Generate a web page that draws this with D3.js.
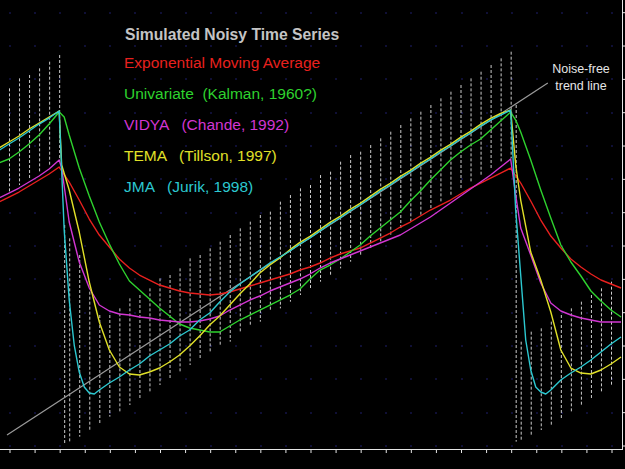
<!DOCTYPE html>
<html>
<head>
<meta charset="utf-8">
<script src="https://cdnjs.cloudflare.com/ajax/libs/d3/7.8.5/d3.min.js"></script>
<style>
  body { margin: 0; background: #000; }
  svg { display: block; }
</style>
</head>
<body>
<script>
'use strict';

// bar index of each noisy sample column, with its high / low reading
const noiseIdx = [0, 2, 4, 6, 8, 10, 11, 12, 14, 16, 18, 20, 22, 24, 26, 28, 30, 32, 34, 36, 38, 40,
  42, 44, 46, 48, 50, 52, 54, 56, 58, 60, 62, 64, 66, 68, 70, 72, 74, 76, 78, 80, 82, 84, 86, 88, 90,
  92, 94, 96, 98, 100, 101, 102, 104, 106, 108, 110, 112, 114, 116, 118, 120];
const noiseHi = [107, 110, 111, 113, 115, 117, 66, 62, 57, 46, 39, 39, 41, 44, 45, 47, 50, 51, 53, 56, 57, 59,
  61, 63, 65, 67, 69, 70, 73, 75, 77, 78, 81, 82, 85, 87, 88, 90, 92, 94, 96, 98, 100, 102, 104, 106, 108,
  110, 112, 114, 116, 118, 102, 31, 34, 35, 37, 39, 41, 43, 45, 47, 49];
const noiseLo = [76, 78, 80, 82, 84, 86, 0.5, 1, 2.5, 4.5, 6.5, 8.5, 10, 12, 14, 16, 18, 20, 22, 24, 26, 28,
  30, 31, 34, 36, 37, 40, 41, 43, 45, 47, 49, 51, 53, 55, 57, 59, 61, 63, 65, 67, 69, 71, 73, 75, 77,
  79, 81, 83, 85, 86, 1, 1.5, 3, 4.5, 6, 8, 10, 12, 14, 16, 18];

// noise-free trend line end points
const trendPts = [[-0.4, 3], [107.4, 108.6]];

// filtered series [bar index, value]
const emaPts = [[-2, 72.9], [0, 74.4], [2, 75.9], [4, 77.7], [6, 79.5], [8, 81.3], [10, 83.4], [12, 78.9],
  [14, 73.5], [16, 67.8], [18, 63], [20, 59.4], [22, 55.8], [24, 53.1], [26, 51], [28, 49.5], [30, 48],
  [32, 47.1], [34, 46.2], [36, 45.6], [38, 45.3], [40, 45], [42, 45.3], [44, 45.9], [46, 46.8], [48, 47.7],
  [50, 48.6], [52, 49.5], [54, 50.4], [56, 51.3], [58, 52.5], [60, 53.4], [62, 54.6], [64, 56.1], [66, 57.3],
  [68, 58.2], [70, 59.1], [72, 60.6], [74, 62.1], [76, 63.6], [78, 65.4], [80, 66.9], [82, 68.7], [84, 70.5],
  [86, 72], [88, 73.5], [90, 75.3], [92, 77.1], [94, 78.6], [96, 80.1], [98, 81.6], [100, 83.1], [102, 78.6],
  [104, 73.2], [106, 67.5], [108, 62.7], [110, 59.1], [112, 55.8], [114, 53.4], [116, 51.3], [118, 49.5],
  [120, 48.3], [122, 47.1]];

const kalmanPts = [[-2, 84.6], [0, 85.8], [2, 87.9], [4, 90.3], [6, 93], [8, 96.3], [10, 99.9], [11, 98.4],
  [12, 93], [14, 83.1], [16, 74.7], [18, 66.9], [20, 60.3], [22, 54.3], [24, 49.2], [26, 46.5], [28, 43.8],
  [30, 41.1], [32, 38.7], [34, 36.3], [36, 35.1], [38, 34.5], [40, 33.9], [42, 33.9], [44, 35.7], [46, 37.5],
  [48, 39], [50, 40.5], [52, 42], [54, 43.5], [56, 45], [58, 46.8], [60, 49.8], [62, 52.5], [64, 54],
  [66, 55.8], [68, 57.9], [70, 60], [72, 62.7], [74, 65.1], [76, 67.5], [78, 69.9], [80, 73.2], [82, 76.2],
  [84, 79.5], [86, 82.5], [88, 85.5], [90, 87.9], [92, 90], [94, 91.8], [96, 94.5], [98, 97.2], [100, 99.9],
  [101, 97.5], [102, 93.9], [104, 85.5], [106, 76.5], [108, 68.1], [110, 60], [112, 54.9], [114, 50.7],
  [116, 46.2], [118, 43.2], [120, 40.5], [122, 38.4]];

const vidyaPts = [[-2, 74.1], [0, 75.6], [2, 77.1], [4, 78.9], [6, 80.7], [8, 82.8], [10, 85.5], [10.5, 83.1],
  [12, 66.9], [14, 54.9], [16, 47.1], [18, 42], [20, 40.2], [22, 39.3], [24, 39], [26, 38.4], [28, 38.1],
  [30, 37.5], [32, 37.2], [34, 36.9], [36, 36.9], [38, 37.2], [40, 37.8], [42, 38.7], [44, 40.5], [46, 42],
  [48, 43.5], [50, 44.7], [52, 46.2], [54, 47.4], [56, 48.6], [58, 49.8], [60, 51.3], [62, 53.1], [64, 54.6],
  [66, 55.8], [68, 57], [70, 58.2], [72, 59.4], [74, 60.6], [76, 61.8], [78, 63], [80, 64.8], [82, 66.6],
  [84, 68.4], [86, 70.5], [88, 72.6], [90, 74.7], [92, 76.8], [94, 78.9], [96, 81], [98, 83.4], [100, 85.8],
  [101, 75], [102, 65.1], [104, 57], [106, 48.6], [108, 42.6], [110, 40.2], [112, 39], [114, 38.1],
  [116, 37.5], [118, 36.9], [120, 36.9], [122, 36.9]];

const temaPts = [[-2, 89.1], [0, 90.9], [2, 92.7], [4, 94.8], [6, 96.6], [8, 98.4], [10, 100.2], [10.5, 84],
  [12, 76.5], [14, 63.9], [16, 48.9], [18, 36.9], [20, 28.5], [22, 23.4], [24, 21.3], [26, 21], [28, 21.9],
  [30, 23.1], [32, 24.9], [34, 27], [36, 29.7], [38, 32.7], [40, 36], [42, 38.7], [44, 42], [46, 45.3],
  [48, 48.3], [50, 51.6], [52, 54], [54, 56.1], [56, 58.6], [58, 60.8], [60, 62.6], [62, 64.7], [64, 66.8],
  [66, 68.6], [68, 70.7], [70, 72.5], [72, 74.6], [74, 76.7], [76, 78.5], [78, 80.6], [80, 82.4], [82, 84.5],
  [84, 86.3], [86, 88.4], [88, 90.2], [90, 92.3], [92, 94.1], [94, 96.2], [96, 98], [98, 99.5], [100, 100.5],
  [101, 84], [102, 73.5], [104, 57.9], [106, 49.5], [108, 39.9], [110, 28.5], [112, 23.1], [114, 21.6],
  [116, 21.3], [118, 22.5], [120, 24.3], [122, 26.4]];

const jmaPts = [[-2, 88.4], [0, 90.3], [2, 92.1], [4, 94.2], [6, 96.3], [8, 98.1], [10, 100.2], [11, 64.5],
  [12, 43.5], [13, 30], [14, 21.9], [15, 17.4], [16, 15.6], [17, 15.3], [18, 16.5], [20, 18.6], [22, 20.4],
  [24, 22.5], [26, 24.3], [28, 26.7], [30, 28.5], [32, 30.3], [34, 32.7], [36, 34.5], [38, 37.5], [40, 39.6],
  [42, 42.9], [44, 45.9], [46, 48.3], [48, 50.4], [50, 52.5], [52, 54.6], [54, 56.4], [56, 58.2], [58, 60.3],
  [60, 62.1], [62, 64.2], [64, 66.3], [66, 68.1], [68, 70.2], [70, 72], [72, 74.1], [74, 76.2], [76, 78],
  [78, 80.1], [80, 81.9], [82, 84], [84, 85.8], [86, 87.9], [88, 89.7], [90, 91.8], [92, 93.6], [94, 95.7],
  [96, 97.5], [98, 99], [100, 100.5], [101, 70.5], [102, 51], [103, 31.5], [104, 22.5], [105, 17.4],
  [106, 15.9], [107, 15.3], [108, 16.5], [110, 19.5], [112, 21.6], [114, 23.4], [116, 25.5], [118, 27.9],
  [120, 30.3], [122, 32.4]];

const legendLabels = ['Exponential Moving Average', 'Univariate  (Kalman, 1960?)', 'VIDYA   (Chande, 1992)',
  'TEMA   (Tillson, 1997)', 'JMA   (Jurik, 1998)'];
const legendColors = ['#e8201e', '#2ed22e', '#d236d2', '#e0e028', '#2cc8d0'];
const xTicks = d3.range(0, 121, 5);
const yTicks = d3.range(0, 131, 10);

const svg = d3.select('body').append('svg')
  .attr('width', 625)
  .attr('height', 469)
  .style('background', '#000')
  .style('font-family', '"Liberation Sans", Arial, sans-serif');

const xScale = d3.scaleLinear().domain([0, 120]).range([9, 611]);
const yScale = d3.scaleLinear().domain([0, 130]).range([445, 11.7]);

svg.append('defs').append('clipPath').attr('id', 'plot')
  .append('rect').attr('x', 0).attr('y', 0).attr('width', 622).attr('height', 449);

// faint dot grid
const dots = [];
xTicks.forEach((xt) => yTicks.forEach((yt) => dots.push([xt, yt])));
svg.append('g').selectAll('rect')
  .data(dots)
  .enter()
  .append('rect')
    .attr('x', (d) => Math.round(xScale(d[0])))
    .attr('y', (d) => Math.round(yScale(d[1])))
    .attr('width', 2)
    .attr('height', 2)
    .attr('fill', '#0f0f36');

const plot = svg.append('g').attr('clip-path', 'url(#plot)');

// noisy samples as dashed columns
plot.selectAll('.noise')
  .data(noiseIdx)
  .enter()
  .append('line')
    .attr('x1', (d) => xScale(d) + 0.5)
    .attr('x2', (d) => xScale(d) + 0.5)
    .attr('y1', (d, i) => yScale(noiseHi[i]))
    .attr('y2', (d, i) => yScale(noiseLo[i]))
    .attr('stroke', '#cccccc')
    .attr('stroke-width', 1)
    .attr('stroke-dasharray', '3,2');

const line = d3.line()
  .x((d) => xScale(d[0]))
  .y((d) => yScale(d[1]));

plot.append('path')
  .attr('d', line(trendPts))
  .attr('fill', 'none')
  .attr('stroke', '#9a9a9a')
  .attr('stroke-width', 1.2);

[emaPts, kalmanPts, vidyaPts, temaPts, jmaPts].forEach((pts, k) => {
  plot.append('path')
    .attr('d', line(pts))
    .attr('fill', 'none')
    .attr('stroke', legendColors[k])
    .attr('stroke-width', 1.4)
    .attr('stroke-linejoin', 'round');
});

// axes
const xAxis = d3.axisBottom(xScale).tickValues(xTicks).tickSize(4).tickFormat('');
const gx = svg.append('g').attr('transform', 'translate(0.5, 449)').call(xAxis);
gx.select('.domain').remove();
gx.selectAll('line').attr('stroke', '#e6e6e6');

const yAxis = d3.axisRight(yScale).tickValues(yTicks).tickSize(3).tickFormat('');
const gy = svg.append('g').attr('transform', 'translate(622, 0.5)').call(yAxis);
gy.select('.domain').remove();
gy.selectAll('line').attr('stroke', '#e6e6e6');

svg.append('line')
  .attr('x1', 0).attr('x2', 623).attr('y1', 449.5).attr('y2', 449.5)
  .attr('stroke', '#e6e6e6');
svg.append('line')
  .attr('x1', 622.5).attr('x2', 622.5).attr('y1', 0).attr('y2', 450)
  .attr('stroke', '#e6e6e6');

// title and legend
svg.append('text')
  .attr('x', 125)
  .attr('y', 40)
  .attr('fill', '#c4c4c4')
  .style('font-size', '15.7px')
  .style('font-weight', 'bold')
  .text('Simulated Noisy Time Series');

svg.selectAll('.legend')
  .data(legendLabels)
  .enter()
  .append('text')
    .attr('x', 124)
    .attr('y', (d, i) => [68, 99, 130, 161, 192][i])
    .attr('fill', (d, i) => legendColors[i])
    .style('font-size', '15.5px')
    .style('white-space', 'pre')
    .text((d) => d);

svg.append('text')
  .attr('x', 581).attr('y', 73)
  .attr('text-anchor', 'middle')
  .attr('fill', '#e6e6e6')
  .style('font-size', '12.5px')
  .text('Noise-free');
svg.append('text')
  .attr('x', 581).attr('y', 90)
  .attr('text-anchor', 'middle')
  .attr('fill', '#e6e6e6')
  .style('font-size', '12.5px')
  .text('trend line');
</script>
</body>
</html>
